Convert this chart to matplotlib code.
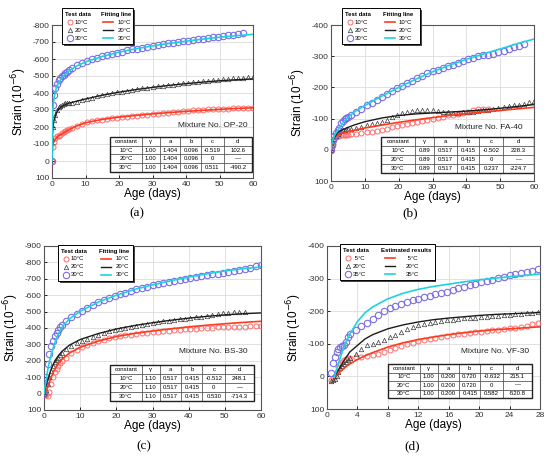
import matplotlib
matplotlib.use("Agg")
import matplotlib.pyplot as plt
from matplotlib.lines import Line2D
from matplotlib.patches import Rectangle

plt.rcParams["font.family"] = ["Liberation Sans", "DejaVu Sans"]
plt.rcParams["axes.unicode_minus"] = False

W, H = 550, 466

# ---- data ----
# test ages (days) for panels a, b, c
AGE = [0, 0.25, 0.5, 1, 1.5, 2, 2.5, 3, 3.5, 4, 4.5, 5, 6,
       7.5, 9, 10.5, 12, 13.5, 15, 16.5, 18, 19.5, 21, 22.5, 24, 25.5, 27, 28.5, 30,
       31.5, 33, 34.5, 36, 37.5, 39, 40.5, 42, 43.5, 45, 46.5, 48, 49.5, 51, 52.5,
       54, 55.5, 57, 58.5, 60]
# ages for fitted lines, panels a, b, c
FIT_AGE = [0, 0.1, 0.25, 0.5, 1, 1.5, 2, 3, 4, 5, 7, 10, 15, 20, 25, 30, 35, 40, 45, 50, 55, 60]

# panel (a) OP-20
a_t10 = [0, -80, -110, -135, -145, -150, -155, -162, -168, -175, -180, -186, -195,
         -208, -220, -228, -234, -239, -244, -248, -252, -255, -258, -261, -264, -267, -270,
         -273, -276, -279, -282, -285, -288, -291, -294, -296, -298, -300, -302, -304, -305,
         -306, -307, -308, -309, -310, -311, -312, -313]
a_t20 = [-130, -200, -240, -270, -300, -315, -325, -332, -338, -340, -342, -342, -343,
         -350, -358, -365, -372, -380, -387, -393, -398, -404, -408, -413, -418, -422, -427,
         -431, -435, -439, -443, -446, -450, -453, -456, -459, -462, -465, -468, -471, -474,
         -477, -480, -483, -486, -489, -491, -494, -496]
a_t30 = [0, -330, -390, -430, -455, -475, -490, -500, -505, -515, -525, -535, -550,
         -562, -576, -588, -598, -607, -616, -624, -631, -638, -644, -650, -656, -661, -667,
         -673, -678, -683, -688, -692, -696, -700, -704, -708, -712, -716, -720, -723, -727,
         -731, -735, -739, -743, -748, -752]
a_f10 = [0, -60, -95, -115, -130, -140, -148, -160, -172, -183, -203, -225, -245, -258,
         -268, -277, -285, -292, -298, -304, -309, -313]
a_f20 = [0, -130, -190, -230, -265, -290, -305, -322, -332, -340, -350, -365, -387, -405,
         -420, -433, -445, -455, -464, -472, -478, -483]
a_f30 = [0, -200, -300, -360, -410, -440, -460, -490, -510, -528, -555, -583, -615, -640,
         -660, -677, -692, -705, -717, -728, -737, -745]

# panel (b) FA-40
b_t10 = [0, -10, -20, -35, -40, -43, -45, -46, -47, -48, -48, -49, -50,
         -52, -54, -56, -58, -61, -64, -68, -72, -76, -80, -84, -87, -90, -93,
         -96, -99, -102, -106, -110, -113, -116, -119, -122, -126, -130, -132, -130]
b_t20 = [0, -15, -25, -35, -45, -52, -58, -62, -64, -65, -66, -67, -68,
         -70, -74, -78, -82, -86, -90, -96, -104, -112, -118, -122, -125, -127, -128,
         -128, -127, -125, -122, -120, -119, -119, -120, -121, -122, -124, -126, -128, -130,
         -133, -136, -139, -142, -145, -148, -152, -156]
b_t30 = [0, -15, -30, -45, -55, -62, -70, -85, -92, -100, -103, -105, -110,
         -120, -132, -142, -150, -160, -170, -180, -190, -198, -206, -214, -222, -230, -238,
         -245, -252, -257, -262, -267, -272, -278, -284, -290, -295, -300, -303, -305, -308,
         -312, -317, -322, -328, -334, -340]
b_f10 = [0, -8, -18, -28, -38, -44, -48, -52, -55, -58, -63, -70, -79, -88,
         -96, -103, -110, -116, -121, -126, -131, -136]
b_f20 = [0, -8, -18, -28, -40, -48, -55, -62, -67, -72, -80, -90, -102, -110,
         -115, -118, -121, -124, -128, -133, -139, -145]
b_f30 = [0, -10, -20, -30, -45, -55, -63, -78, -92, -104, -122, -142, -172, -200,
         -226, -250, -271, -290, -307, -323, -340, -355]

# panel (c) BS-30
c_t10 = [0, 5, 10, 15, -10, -60, -100, -130, -150, -170, -185, -200, -220,
         -245, -265, -282, -295, -306, -318, -328, -337, -344, -350, -355, -359, -363, -367,
         -370, -373, -376, -379, -382, -385, -388, -391, -394, -396, -398, -400, -402, -404,
         -405, -406, -407, -408, -409, -410, -411, -412]
c_t20 = [0, -10, -25, -60, -100, -140, -170, -190, -205, -220, -235, -250, -270,
         -292, -310, -322, -333, -345, -358, -370, -380, -388, -395, -402, -407, -412, -418,
         -424, -430, -435, -440, -444, -448, -452, -456, -460, -465, -470, -475, -480, -485,
         -489, -492, -495, -498, -500]
c_t30 = [0, -50, -100, -180, -240, -290, -320, -350, -372, -390, -405, -420, -440,
         -465, -488, -505, -525, -543, -560, -572, -584, -595, -606, -616, -626, -635, -644,
         -652, -660, -667, -674, -681, -688, -694, -700, -706, -712, -717, -722, -727, -732,
         -737, -742, -748, -754, -760, -768, -776, -785]
c_f10 = [0, -3, -8, -18, -40, -70, -100, -150, -185, -210, -247, -282, -320, -348,
         -367, -382, -395, -407, -417, -426, -434, -441]
c_f20 = [0, -10, -25, -45, -80, -115, -150, -200, -232, -258, -295, -330, -366, -394,
         -415, -432, -447, -460, -471, -480, -487, -492]
c_f30 = [0, -20, -40, -70, -140, -195, -240, -310, -365, -405, -455, -502, -558, -600,
         -635, -663, -688, -710, -730, -748, -762, -772]

# panel (d) VF-30
AGE_D = [0.5, 0.75, 1, 1.25, 1.5, 1.75, 2, 2.25, 2.5, 2.75, 3,
         3.75, 4.5, 5.25, 6, 6.75, 7.5, 8.25, 9, 9.75, 10.5, 11.25, 12, 12.75, 13.5,
         14.25, 15, 15.75, 16.5, 17.25, 18, 18.75, 19.5, 20.25, 21, 21.75, 22.5, 23.25,
         24, 24.75, 25.5, 26.25, 27, 27.75]
d_t5 = [10, 5, 0, -15, -28, -38, -45, -50, -53, -55, -56,
        -58, -60, -62, -65, -70, -76, -82, -88, -93, -98, -103, -108, -112, -116,
        -119, -122, -125, -127, -129, -131, -133, -135, -137, -139, -141, -143, -145,
        -147, -150, -153, -156, -160, -165]
d_t20 = [15, 12, 8, 0, -15, -25, -32, -38, -45, -50, -55,
         -70, -85, -95, -100, -105, -112, -120, -128, -136, -145, -152, -158, -162, -165,
         -168, -170, -172, -174, -176, -178, -179, -180, -182, -183, -184, -186, -187,
         -188, -190, -191, -193, -195, -198]
d_t35 = [-10, -40, -60, -75, -85, -90, -92, -95, -105, -120, -130,
         -142, -155, -165, -175, -188, -200, -210, -217, -222, -228, -233, -238, -243, -248,
         -252, -256, -260, -265, -270, -275, -279, -284, -289, -293, -297, -301, -305,
         -310, -314, -318, -321, -324, -330]
FIT_AGE_D = [1, 1.25, 1.5, 2, 2.5, 3, 4, 5, 6, 8, 10, 12, 14, 16, 18, 20, 22, 24, 26, 28]
d_f5 = [0, -5, -10, -20, -30, -38, -52, -63, -73, -90, -103, -113, -121, -128,
        -134, -139, -143, -146, -149, -152]
d_f20 = [0, -10, -20, -40, -58, -75, -95, -115, -128, -146, -158, -167, -174, -179,
         -183, -187, -190, -192, -194, -196]
d_f35 = [0, -20, -40, -75, -105, -130, -168, -195, -213, -238, -255, -267, -276, -283,
         -290, -296, -301, -306, -310, -314]

TABLE_COLS = ["constant", "γ", "a", "b", "c", "d"]
TABLE_ROWS = ["10°C", "20°C", "30°C"]
table_a = [["1.00", "1.404", "0.096", "-0.519", "102.6"],
           ["1.00", "1.404", "0.096", "0", "—"],
           ["1.00", "1.404", "0.096", "0.511", "-490.2"]]
table_b = [["0.89", "0.517", "0.415", "-0.502", "228.3"],
           ["0.89", "0.517", "0.415", "0", "—"],
           ["0.89", "0.517", "0.415", "0.237", "-224.7"]]
table_c = [["1.10", "0.517", "0.415", "-0.512", "248.1"],
           ["1.10", "0.517", "0.415", "0", "—"],
           ["1.10", "0.517", "0.415", "0.530", "-714.3"]]
table_d = [["1.00", "0.200", "0.720", "-0.632", "215.1"],
           ["1.00", "0.200", "0.720", "0", "—"],
           ["1.00", "0.200", "0.415", "0.582", "-520.8"]]

RED_M, RED_L = "#ff6a6a", "#ff3a1e"
BLK_M, BLK_L = "#3a3a3a", "#1c1c1c"
BLU_M, CYN_L = "#7a6ee6", "#1fd2e0"

MSTYLE = [dict(marker="o", color=RED_M, ms=3.6, mew=0.7),
          dict(marker="^", color=BLK_M, ms=3.2, mew=0.5),
          dict(marker="o", color=BLU_M, ms=4.6, mew=0.8)]
LSTYLE = [dict(color=RED_L, lw=1.2), dict(color=BLK_L, lw=1.0), dict(color=CYN_L, lw=1.2)]
LEG_FS = 4.3


def fx(x):
    return x / W


def fy(y):
    return 1 - y / H


def draw_legend(temps, fit_title, x0, y0, w, h2, line_x, lab2_x, h=36):
    tf = fig.transFigure
    fig.add_artist(Rectangle((fx(x0 + 1.5), fy(y0 + h + 1.5)), w / W, h / H, transform=tf,
                             fc="#444444", ec="none", zorder=20))
    fig.add_artist(Rectangle((fx(x0), fy(y0 + h)), w / W, h / H, transform=tf,
                             fc="white", ec="black", lw=0.7, zorder=21))
    fig.text(fx(x0 + 3), fy(y0 + 6.5), "Test data", fontsize=LEG_FS, fontweight="bold",
             va="center", zorder=22)
    fig.text(fx(x0 + h2), fy(y0 + 6.5), fit_title, fontsize=LEG_FS, fontweight="bold",
             va="center", zorder=22)
    for i, (t, ms, ls) in enumerate(zip(temps, MSTYLE, LSTYLE)):
        yy = fy(y0 + 14 + 8 * i)
        fig.add_artist(Line2D([fx(x0 + 8)], [yy], ls="none", mfc="none", transform=tf,
                              zorder=22, **ms))
        fig.text(fx(x0 + 13), yy, t, fontsize=LEG_FS, va="center", zorder=22)
        fig.add_artist(Line2D([fx(x0 + line_x), fx(x0 + line_x + 10)], [yy, yy],
                              transform=tf, zorder=22, **ls))
        fig.text(fx(x0 + lab2_x), yy, t, fontsize=LEG_FS, va="center", zorder=22)


def draw_panel(ax, ages, tests, fit_ages, fits, xmax, xstep, ymin, mixture, table,
               mix_xy, tbl_box, letter, letter_xy):
    ax.grid(True, color="#dcdcdc", lw=0.6)
    ax.set_axisbelow(True)
    for vals, st in zip(tests, MSTYLE):
        ax.plot(ages[:len(vals)], vals, ls="none", mfc="none", zorder=3, **st)
    for vals, st in zip(fits, LSTYLE):
        ax.plot(fit_ages, vals, zorder=4, **st)

    ax.set_xlim(0, xmax)
    ax.set_xticks(range(0, xmax + 1, xstep))
    ax.set_ylim(100, ymin)
    ax.set_yticks(range(ymin, 101, 100))
    ax.tick_params(direction="in", length=2.5, width=0.6, labelsize=6.0,
                   labelcolor="#333333", pad=2)
    for s in ax.spines.values():
        s.set_color("#555555")
        s.set_linewidth(0.8)
    ax.set_xlabel("Age (days)", fontsize=8.5, labelpad=0.5)
    ax.set_ylabel("Strain (10$^{-6}$)", fontsize=8.5, labelpad=2)

    ax.text(mix_xy[0], mix_xy[1], mixture, transform=ax.transAxes, ha="right",
            va="center", fontsize=6, color="#222222", zorder=6)

    cells = [[r] + row for r, row in zip(TABLE_ROWS, table)]
    tbl = ax.table(cellText=cells, colLabels=TABLE_COLS, bbox=tbl_box,
                   colWidths=[0.21, 0.12, 0.14, 0.14, 0.15, 0.19], cellLoc="center")
    tbl.auto_set_font_size(False)
    tbl.set_fontsize(4.3)
    tbl.set_zorder(7)
    for cell in tbl.get_celld().values():
        cell.set_linewidth(0.4)
        cell.set_edgecolor("#333333")
        cell.set_facecolor("white")
    ax.add_patch(Rectangle((tbl_box[0], tbl_box[1]), tbl_box[2], tbl_box[3],
                           transform=ax.transAxes, fill=False, lw=1.0, ec="#222222",
                           zorder=8))
    fig.text(fx(letter_xy[0]), fy(letter_xy[1]), letter, ha="center", va="center",
             fontsize=9.5, family="Liberation Serif")


fig = plt.figure(figsize=(W / 100, H / 100), dpi=100)
ax_a = fig.add_axes([fx(52), fy(178), 201 / W, 153 / H])
ax_b = fig.add_axes([fx(331), fy(181), 203 / W, 156 / H])
ax_c = fig.add_axes([fx(44), fy(410), 217 / W, 164 / H])
ax_d = fig.add_axes([fx(327), fy(409), 213 / W, 163 / H])

T3 = ["10°C", "20°C", "30°C"]
draw_panel(ax_a, AGE, [a_t10, a_t20, a_t30], FIT_AGE, [a_f10, a_f20, a_f30],
           60, 10, -800, "Mixture No. OP-20", table_a,
           (0.975, 0.34), [0.29, 0.04, 0.705, 0.228], "(a)", (137, 213))
draw_panel(ax_b, AGE, [b_t10, b_t20, b_t30], FIT_AGE, [b_f10, b_f20, b_f30],
           60, 10, -400, "Mixture No. FA-40", table_b,
           (0.946, 0.34), [0.246, 0.05, 0.754, 0.23], "(b)", (410, 213))
draw_panel(ax_c, AGE, [c_t10, c_t20, c_t30], FIT_AGE, [c_f10, c_f20, c_f30],
           60, 10, -900, "Mixture No. BS-30", table_c,
           (0.94, 0.354), [0.304, 0.055, 0.664, 0.219], "(c)", (144, 446))
draw_panel(ax_d, AGE_D, [d_t5, d_t20, d_t35], FIT_AGE_D, [d_f5, d_f20, d_f35],
           28, 4, -400, "Mixture No. VF-30", table_d,
           (0.948, 0.35), [0.286, 0.067, 0.676, 0.209], "(d)", (412, 446))

draw_legend(T3, "Fitting line", 62, 8, 71, 39, 41, 56)
draw_legend(T3, "Fitting line", 342, 8, 78, 41, 43, 57)
draw_legend(T3, "Fitting line", 58, 245, 75, 41, 43, 58)
draw_legend([" 5°C", "20°C", "35°C"], "Estimated results", 340, 244, 95, 41, 45, 66)

fig.savefig("out.png", dpi=100)
